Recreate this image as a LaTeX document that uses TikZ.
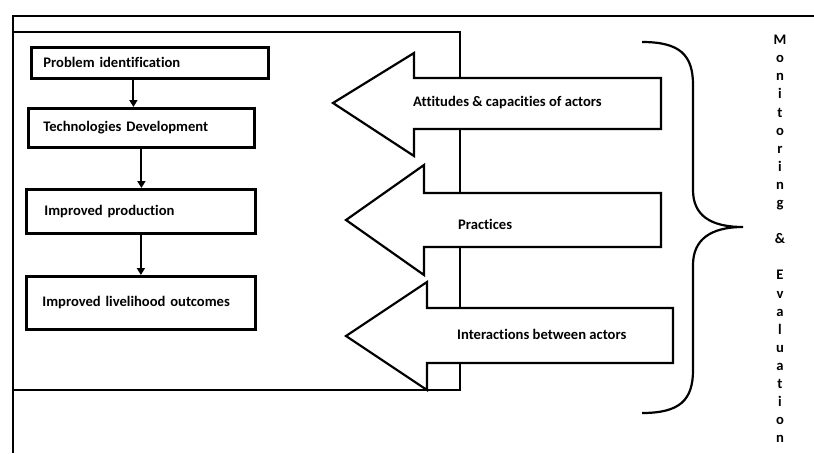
\documentclass[tikz,border=0pt]{standalone}
\usepackage{fontspec}
\setmainfont{Carlito}[Ligatures={NoCommon}]
\usetikzlibrary{arrows.meta}
\begin{document}
\begin{tikzpicture}[x=1pt,y=-1pt,
  lbl/.style={font=\bfseries\fontsize{14.6}{17}\selectfont},
  box/.style={lbl, draw, line width=2.8pt, anchor=north west, inner ysep=0pt, align=left},
  conn/.style={line width=2pt, -{Triangle[length=7pt,width=8pt]}},
  frame/.style={line width=2.6pt},
  bigarrow/.style={draw, fill=white, line width=2.2pt, line join=miter},
  brace/.style={line width=2.2pt}
]
\useasboundingbox (0,0) rectangle (814,453);
% frames
\draw[frame] (13,453) -- (13,16) -- (814,16);
\draw[frame] (13,32) rectangle (460,390);
% boxes
\node[box, minimum width=237pt, minimum height=31pt, inner xsep=12pt, text width=213pt] (b1) at (30,46) {Problem identification};
\node[box, minimum width=226pt, minimum height=39pt, inner xsep=15pt, text width=196pt] (b2) at (27,107) {Technologies Development};
\node[box, minimum width=229pt, minimum height=44pt, inner xsep=18pt, text width=193pt] (b3) at (25,188) {Improved production};
\node[box, minimum width=229pt, minimum height=53pt, inner xsep=16pt, text width=197pt] (b4) at (25,275) {Improved livelihood outcomes};
% connectors
\draw[conn] ([xshift=-16.5pt]b1.south) -- ([xshift=-16.5pt]b1.south |- b2.north);
\draw[conn] (b2.south) -- (b2.south |- b3.north);
\draw[conn] (b3.south) -- (b3.south |- b4.north);
% big arrows
\draw[bigarrow] (333,103) -- (414,53) -- (414,78) -- (661,78) -- (661,129) -- (414,129) -- (414,156) -- cycle;
\draw[bigarrow] (346,220) -- (424,165) -- (424,193) -- (661,193) -- (661,247) -- (424,247) -- (424,275) -- cycle;
\draw[bigarrow] (346,336) -- (427,282) -- (427,308) -- (673,308) -- (673,363) -- (427,363) -- (427,390) -- cycle;
\node[lbl, anchor=west, inner xsep=0pt] (t1) at (413,103) {Attitudes \& capacities of actors};
\node[lbl, anchor=west, inner xsep=0pt] (t2) at (458,224) {Practices};
\node[lbl, anchor=west, inner xsep=0pt] (t3) at (457,334) {Interactions between actors};
% brace
\draw[brace] (642,42) .. controls (680,42) and (693,55) .. (693,85) -- (693,190)
  .. controls (693,215) and (710,227) .. (743,227)
  .. controls (710,227) and (693,240) .. (693,265) -- (693,370)
  .. controls (693,400) and (680,413) .. (642,413);
% vertical label
\node[font=\bfseries\fontsize{14.6}{18.1}\selectfont, align=center, inner sep=0pt] (me) at (780,239)
  {M\\o\\n\\i\\t\\o\\r\\i\\n\\g\\~\\\&\\~\\E\\v\\a\\l\\u\\a\\t\\i\\o\\n};
\end{tikzpicture}
\end{document}
